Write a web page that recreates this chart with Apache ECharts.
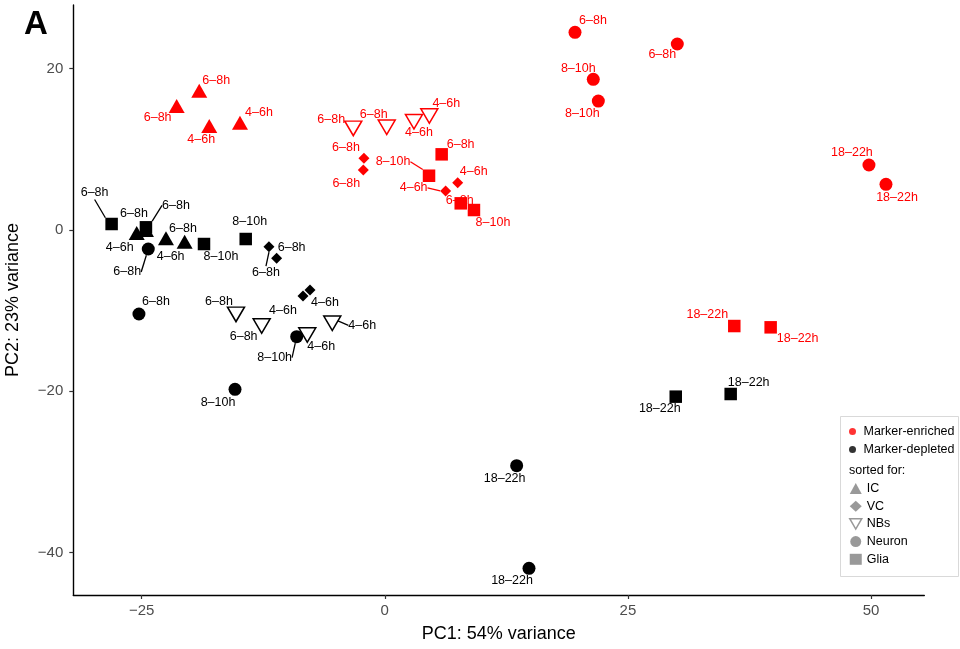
<!DOCTYPE html>
<html>
<head>
<meta charset="utf-8">
<script src="https://cdn.jsdelivr.net/npm/echarts@6/dist/echarts.min.js"></script>
<style>
html,body{margin:0;padding:0;background:#fff;}
#chart{width:960px;height:649px;}
</style>
</head>
<body>
<div id="chart"></div>
<script>
// ---- data: [PC1, PC2, time window] ----
const enrichedIC = [[-21.40, 15.34, '6–8h'], [-19.08, 17.23, '6–8h'], [-18.05, 12.86, '4–6h'], [-14.89, 13.27, '4–6h']];
const enrichedVC = [[-2.14, 8.86, '6–8h'], [-2.21, 7.41, '6–8h'], [7.50, 5.83, '4–6h'], [6.26, 4.81, '4–6h']];
const enrichedNBs = [[-3.24, 12.57, '6–8h'], [0.20, 12.70, '6–8h'], [3.00, 13.39, '4–6h'], [4.58, 14.10, '4–6h']];
const enrichedNeuron = [[19.56, 24.46, '6–8h'], [30.08, 23.02, '6–8h'], [21.44, 18.64, '8–10h'], [21.96, 15.95, '8–10h'], [49.79, 8.03, '18–22h'], [51.54, 5.64, '18–22h']];
const enrichedGlia = [[5.85, 9.35, '6–8h'], [4.55, 6.70, '8–10h'], [7.81, 3.28, '6–8h'], [9.17, 2.45, '8–10h'], [35.94, -11.92, '18–22h'], [39.68, -12.08, '18–22h']];

const depletedIC = [[-25.51, -0.40, '4–6h'], [-24.56, -0.02, '6–8h'], [-22.50, -1.05, '6–8h'], [-20.58, -1.47, '4–6h']];
const depletedVC = [[-11.91, -2.09, '6–8h'], [-11.12, -3.53, '6–8h'], [-8.41, -8.20, '4–6h'], [-7.69, -7.46, '4–6h']];
const depletedNBs = [[-15.30, -10.47, '6–8h'], [-12.66, -11.92, '6–8h'], [-7.97, -13.03, '4–6h'], [-5.40, -11.58, '4–6h']];
const depletedNeuron = [[-24.32, -2.38, '6–8h'], [-25.28, -10.43, '6–8h'], [-9.06, -13.24, '8–10h'], [-15.40, -19.76, '8–10h'], [13.56, -29.22, '18–22h'], [14.83, -41.93, '18–22h']];
const depletedGlia = [[-28.09, 0.72, '6–8h'], [-24.56, 0.31, '6–8h'], [-18.59, -1.76, '8–10h'], [-14.30, -1.14, '8–10h'], [29.92, -20.67, '18–22h'], [35.57, -20.34, '18–22h']];

const xTicks = [-25, 0, 25, 50];
const yTicks = [-40, -20, 0, 20];
const statusNames = ['Marker-enriched', 'Marker-depleted'];
const cellTypes = ['IC', 'VC', 'NBs', 'Neuron', 'Glia'];

// ---- label layout (pixel nudges, [dx, dy, leaderLine]) ----
const nudge = {
  enrichedIC: [[-19, 12], [17, -10], [-8, 14], [19, -10]],
  enrichedVC: [[-18, -11], [-17, 14], [16, -11], [-32, -3, 1]],
  enrichedNBs: [[-22, -9], [-13, -13], [5, 11], [17, -12]],
  enrichedNeuron: [[18, -12], [-15, 11], [-15, -11], [-16, 12], [-17, -12], [11, 13]],
  enrichedGlia: [[19, -10], [-36, -14, 1], [-1, -3], [19, 13], [-27, -11], [27, 11]],
  depletedIC: [[-17, 15], [-12, -16], [17, -10], [-14, 15]],
  depletedVC: [[-3, 26, 1], [15, -11], [-20, 15], [15, 13]],
  depletedNBs: [[-17, -13], [-18, 11], [14, 12], [30, 2, 1]],
  depletedNeuron: [[-21, 23, 1], [17, -12], [-22, 21, 1], [-17, 13], [-12, 13], [-17, 12]],
  depletedGlia: [[-17, -31, 1], [30, -22, 1], [17, 13], [4, -17], [-16, 12], [18, -11]]
};

const RED = '#FF0000', BLACK = '#000000', GREY = '#7F7F7F';
const FONT = 'Liberation Sans, Arial, Helvetica, sans-serif';
const downTri = 'path://M0,0 L20,0 L10,17.32 Z';

const shapeStyle = {
  IC: { symbol: 'triangle', size: [16, 14] },
  VC: { symbol: 'diamond', size: [11, 11] },
  NBs: { symbol: downTri, size: [17, 14.5], open: true },
  Neuron: { symbol: 'circle', size: 13 },
  Glia: { symbol: 'rect', size: 12.5 }
};

function makeSeries(key, points, type, color) {
  const st = shapeStyle[type];
  const nd = nudge[key];
  return {
    name: key,
    type: 'scatter',
    symbol: st.symbol,
    symbolSize: st.size,
    itemStyle: st.open
      ? { color: '#ffffff', borderColor: color, borderWidth: 1.5, opacity: 1 }
      : { color: color, opacity: 1 },
    label: {
      show: true,
      position: 'top',
      distance: 0,
      formatter: '{b}',
      color: color,
      opacity: 1,
      fontFamily: FONT,
      fontSize: 12.5
    },
    labelLine: { show: false, lineStyle: { color: color, width: 1.3 } },
    labelLayout: function (params) {
      const n = nd[params.dataIndex];
      const r = params.rect;
      return {
        x: r.x + r.width / 2 + n[0],
        y: r.y + r.height / 2 + n[1],
        align: 'center',
        verticalAlign: 'middle',
        hideOverlap: false
      };
    },
    emphasis: { disabled: true },
    z: 2,
    data: points.map(function (p, i) {
      const item = { name: p[2], value: [p[0], p[1]] };
      if (nd[i][2]) item.labelLine = { show: true, length2: 0 };
      return item;
    })
  };
}

const series = [
  makeSeries('enrichedNBs', enrichedNBs, 'NBs', RED),
  makeSeries('depletedNBs', depletedNBs, 'NBs', BLACK),
  makeSeries('enrichedIC', enrichedIC, 'IC', RED),
  makeSeries('enrichedVC', enrichedVC, 'VC', RED),
  makeSeries('enrichedNeuron', enrichedNeuron, 'Neuron', RED),
  makeSeries('enrichedGlia', enrichedGlia, 'Glia', RED),
  makeSeries('depletedIC', depletedIC, 'IC', BLACK),
  makeSeries('depletedVC', depletedVC, 'VC', BLACK),
  makeSeries('depletedNeuron', depletedNeuron, 'Neuron', BLACK),
  makeSeries('depletedGlia', depletedGlia, 'Glia', BLACK)
];
// legend-only series
series.push({ name: statusNames[0], type: 'scatter', data: [], itemStyle: { color: RED } });
series.push({ name: statusNames[1], type: 'scatter', data: [], itemStyle: { color: BLACK } });
cellTypes.forEach(function (t) {
  series.push({ name: t, type: 'scatter', data: [], symbol: shapeStyle[t].symbol, itemStyle: { color: GREY } });
});

const minusFmt = function (v) { return String(v).replace('-', '\u2212'); };

const option = {
  animation: false,
  backgroundColor: '#fff',
  grid: { left: 73.3, right: 35.7, top: 5, bottom: 54, containLabel: false, outerBoundsMode: 'none' },
  xAxis: {
    type: 'value', min: -32.03, max: 55.48,
    name: 'PC1: 54% variance', nameLocation: 'middle', nameGap: 30,
    nameTextStyle: { fontSize: 18, color: '#000', fontFamily: FONT },
    axisLine: { show: true, onZero: false, lineStyle: { color: '#000', width: 1.4 } },
    axisTick: { show: true, length: 4, customValues: xTicks, lineStyle: { color: '#333', width: 1.2 } },
    axisLabel: { customValues: xTicks, formatter: minusFmt, color: '#4D4D4D', fontSize: 15, margin: 8, fontFamily: FONT },
    splitLine: { show: false }
  },
  yAxis: {
    type: 'value', min: -45.24, max: 27.85,
    name: 'PC2: 23% variance', nameLocation: 'middle', nameGap: 51, nameRotate: 90,
    nameTextStyle: { fontSize: 18, color: '#000', fontFamily: FONT },
    axisLine: { show: true, onZero: false, lineStyle: { color: '#000', width: 1.4 } },
    axisTick: { show: true, length: 4, customValues: yTicks, lineStyle: { color: '#333', width: 1.2 } },
    axisLabel: { customValues: yTicks, formatter: minusFmt, color: '#4D4D4D', fontSize: 15, margin: 10, fontFamily: FONT },
    splitLine: { show: false }
  },
  legend: [
    {
      left: 849, top: 425, orient: 'vertical', padding: 0, itemGap: 5,
      itemWidth: 12, itemHeight: 7, icon: 'circle', selectedMode: false,
      textStyle: { fontSize: 12.5, color: '#000', fontFamily: FONT },
      data: statusNames
    },
    {
      left: 849, top: 482, orient: 'vertical', padding: 0, itemGap: 4.7,
      itemWidth: 12, itemHeight: 11, selectedMode: false,
      textStyle: { fontSize: 12.5, color: '#000', fontFamily: FONT },
      data: [
        { name: 'IC', icon: 'triangle' },
        { name: 'VC', icon: 'diamond' },
        { name: 'NBs', icon: downTri, itemStyle: { color: '#ffffff', borderColor: GREY, borderWidth: 1.5 } },
        { name: 'Neuron', icon: 'circle' },
        { name: 'Glia', icon: 'rect' }
      ]
    }
  ],
  graphic: [
    { type: 'rect', z: 3, shape: { x: 840.5, y: 416.5, width: 118, height: 160 }, style: { fill: '#fff', stroke: '#d9d9d9', lineWidth: 1 } },
    { type: 'text', z: 5, x: 849, y: 464, style: { text: 'sorted for:', fontSize: 12.5, fill: '#000', fontFamily: FONT } },
    { type: 'text', z: 5, x: 24, y: 8, style: { text: 'A', fontSize: 33, fontWeight: 'bold', fill: '#000', fontFamily: FONT } }
  ],
  series: series
};

const chart = echarts.init(document.getElementById('chart'), null, { renderer: 'canvas' });
chart.setOption(option);
</script>
</body>
</html>
